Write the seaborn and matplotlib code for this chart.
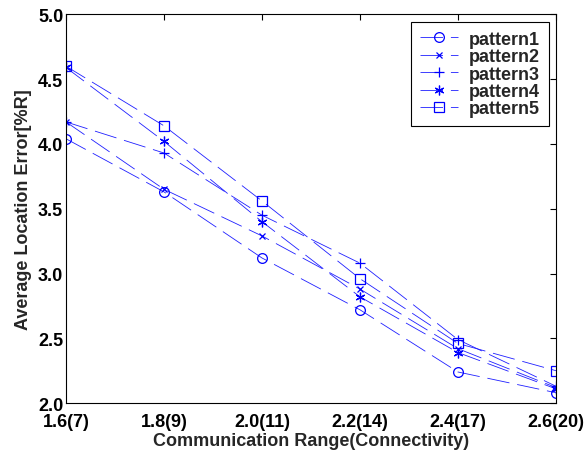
import matplotlib
matplotlib.use("Agg")
import matplotlib.pyplot as plt
import seaborn as sns
import pandas as pd

# Communication range values and their tick labels (connectivity in brackets)
comm_range = [1.6, 1.8, 2.0, 2.2, 2.4, 2.6]
tick_labels = ["1.6(7)", "1.8(9)", "2.0(11)", "2.2(14)", "2.4(17)", "2.6(20)"]

# Average location error per pattern [%R]
pattern1 = [4.04, 3.63, 3.12, 2.72, 2.24, 2.08]
pattern2 = [4.17, 3.65, 3.29, 2.88, 2.42, 2.12]
pattern3 = [4.17, 3.93, 3.45, 3.08, 2.49, 2.13]
pattern4 = [4.59, 4.02, 3.40, 2.82, 2.39, 2.11]
pattern5 = [4.60, 4.14, 3.56, 2.96, 2.46, 2.25]

names = ["pattern1", "pattern2", "pattern3", "pattern4", "pattern5"]
series = [pattern1, pattern2, pattern3, pattern4, pattern5]
marker_list = ["o", "x", "+", (6, 2, 0), "s"]
marker_sizes = [7, 4, 7, 7, 7.5]

sns.set_theme(style="white")
plt.rcParams["font.family"] = ["Liberation Sans", "DejaVu Sans"]
plt.rcParams["font.weight"] = "bold"

fig = plt.figure(figsize=(5.84, 4.52), dpi=100, facecolor="white")
ax = fig.add_axes([0.113, 0.106, 0.839, 0.86])

for name, vals, mk, ms in zip(names, series, marker_list, marker_sizes):
    df = pd.DataFrame({"range": comm_range, "error": vals})
    sns.lineplot(data=df, x="range", y="error", ax=ax, label=name,
                 color="#1f1fff", linestyle=(0, (27, 9.5)), linewidth=0.6,
                 marker=mk, markersize=ms,
                 markerfacecolor="none", markeredgecolor="#0000ff",
                 markeredgewidth=0.9)

ax.set_xlim(1.6, 2.6)
ax.set_ylim(2.0, 5.0)
ax.set_xticks(comm_range)
ax.set_xticklabels(tick_labels)
yt = [2.0, 2.5, 3.0, 3.5, 4.0, 4.5, 5.0]
ax.set_yticks(yt)
ax.set_yticklabels([f"{v:.1f}" for v in yt])
ax.tick_params(direction="in", length=4, width=0.8, top=True, right=True,
               labelsize=13, colors="black", pad=2)
ax.tick_params(axis="x", pad=7)
for lab in ax.get_xticklabels() + ax.get_yticklabels():
    lab.set_fontweight("bold")
for sp in ax.spines.values():
    sp.set_color("black")
    sp.set_linewidth(0.8)

ax.set_xlabel("Communication Range(Connectivity)", fontsize=13,
              fontweight="bold", labelpad=1.5)
ax.set_ylabel("Average Location Error[%R]", fontsize=13,
              fontweight="bold", labelpad=4)

leg = ax.legend(loc="upper right", bbox_to_anchor=(0.986, 0.981), frameon=True,
                fancybox=False, edgecolor="black", fontsize=13,
                handlelength=2.1, handletextpad=0.6, borderpad=0.5,
                labelspacing=0.02, borderaxespad=0.0)
leg.get_frame().set_linewidth(0.8)
leg.get_frame().set_alpha(1.0)
for t in leg.get_texts():
    t.set_fontweight("bold")

fig.savefig("out.png", dpi=100, facecolor="white")
